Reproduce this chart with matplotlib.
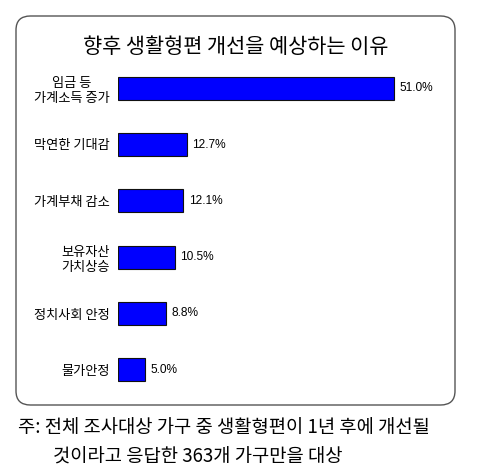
import matplotlib
matplotlib.use('Agg')
from matplotlib import pyplot as plt
from matplotlib.patches import FancyBboxPatch

plt.rcParams['font.family'] = ['Noto Sans CJK KR', 'DejaVu Sans']

title = '향후 생활형편 개선을 예상하는 이유'
categories = ['임금 등\n가계소득 증가', '막연한 기대감', '가계부채 감소',
              '보유자산\n가치상승', '정치사회 안정', '물가안정']
values = [51.0, 12.7, 12.1, 10.5, 8.8, 5.0]
note_lines = ['주: 전체 조사대상 가구 중 생활형편이 1년 후에 개선될',
              '것이라고 응답한 363개 가구만을 대상']

W, H = 480, 468
fig = plt.figure(figsize=(W / 100, H / 100), dpi=100)

# rounded frame, kept behind the axes
box = FancyBboxPatch((16 / W, 1 - 405 / H), (455 - 16) / W, (405 - 16) / H,
                     boxstyle='round,pad=0,rounding_size=0.03',
                     transform=fig.transFigure, facecolor='white',
                     edgecolor='#555555', linewidth=1.0, zorder=0)
fig.patches.append(box)

fig.text(236 / W, 1 - 47 / H, title, ha='center', va='center', fontsize=15)

left = 118 / W
px_per = (394 - 118) / 51.0
xmax = 60
ax = fig.add_axes([left, 1 - 398 / H, xmax * px_per / W, (398 - 60) / H])
ax.set_zorder(3)
pos = list(range(len(values)))
ax.barh(pos, values, height=0.41, color='#0000ff', edgecolor='#111111', linewidth=0.8)
ax.set_xlim(0, xmax)
ax.set_ylim(len(values) - 0.5, -0.5)
for p, v in zip(pos, values):
    ax.text(v + 1.0, p, f'{v:.1f}%', ha='left', va='center', fontsize=8.6,
            family=['Liberation Sans', 'DejaVu Sans'])
ax.set_yticks(pos)
ax.set_yticklabels(categories, fontsize=9.5, multialignment='center', linespacing=1.25)
ax.tick_params(axis='y', length=0, pad=6)
ax.set_xticks([])
for s in ax.spines.values():
    s.set_visible(False)
ax.patch.set_alpha(0)

fig.text(18 / W, 1 - 428 / H, note_lines[0], ha='left', va='center', fontsize=13.5)
fig.text(53 / W, 1 - 457 / H, note_lines[1], ha='left', va='center', fontsize=13.5)

fig.savefig('out.png', dpi=100, facecolor='white')
